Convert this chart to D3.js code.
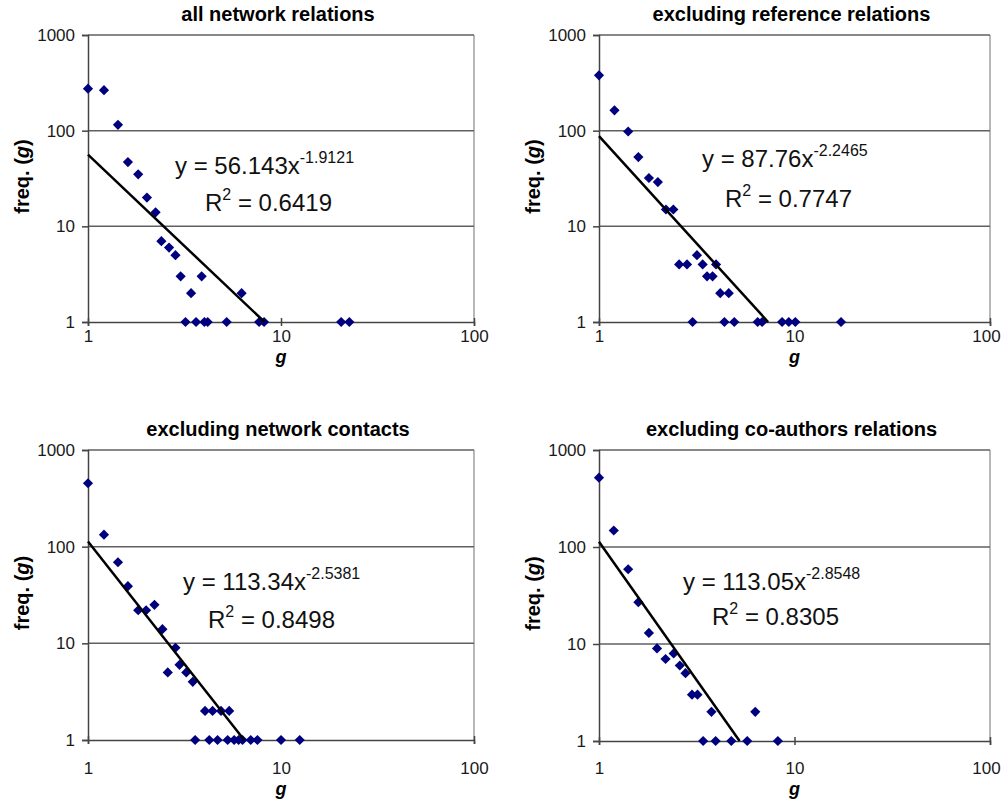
<!DOCTYPE html>
<html>
<head>
<meta charset="utf-8">
<script src="https://cdn.jsdelivr.net/npm/d3@7"></script>
<style>
  body { margin: 0; background: #fff; }
  svg { font-family: "Liberation Sans", Arial, sans-serif; }
</style>
</head>
<body>
<svg id="chart"></svg>
<script>
// data
const titles = ['all network relations', 'excluding reference relations',
                'excluding network contacts', 'excluding co-authors relations'];

const gAll = [1, 1.21, 1.43, 1.61, 1.82, 2.02, 2.24, 2.40, 2.63, 2.84, 3.02, 3.88, 3.42, 6.25,
              3.20, 3.63, 4.01, 4.17, 5.23, 7.70, 8.17, 20.5, 22.6];
const fAll = [275, 265, 115, 47, 35, 20, 14, 7, 6, 5, 3, 3, 2, 2,
              1, 1, 1, 1, 1, 1, 1, 1, 1];

const gRef = [1, 1.2, 1.41, 1.59, 1.80, 2.0, 2.20, 2.40, 2.57, 2.82, 3.17, 3.39, 3.57, 3.81, 3.97, 4.17, 4.61,
              3.01, 4.38, 4.92, 6.48, 6.83, 8.64, 9.35, 10.1, 17.3];
const fRef = [379, 163, 98, 53, 32, 29, 15, 15, 4, 4, 5, 4, 3, 3, 4, 2, 2,
              1, 1, 1, 1, 1, 1, 1, 1, 1];

const gNet = [1, 1.21, 1.43, 1.61, 1.82, 2.0, 2.21, 2.43, 2.59, 2.84, 2.98, 3.23, 3.49,
              4.04, 4.42, 4.89, 5.39,
              3.59, 4.25, 4.69, 5.29, 5.72, 6.03, 6.32, 6.97, 7.55, 10.0, 12.5];
const fNet = [453, 133, 69, 39, 22, 22, 25, 14, 5, 9, 6, 5, 4,
              2, 2, 2, 2,
              1, 1, 1, 1, 1, 1, 1, 1, 1, 1, 1];

const gCo = [1, 1.19, 1.41, 1.59, 1.80, 1.98, 2.19, 2.41, 2.59, 2.77, 2.99, 3.19, 3.76, 6.30,
             3.41, 3.95, 4.75, 5.73, 8.22];
const fCo = [519, 148, 59, 27, 13, 9, 7, 8, 6, 5, 3, 3, 2, 2,
             1, 1, 1, 1, 1];

// power trendlines y = a * x^b
const coefA = ['56.143', '87.76', '113.34', '113.05'];
const coefB = ['-1.9121', '-2.2465', '-2.5381', '-2.8548'];
const rSq = ['0.6419', '0.7747', '0.8498', '0.8305'];

const yTicks = [1, 10, 100, 1000];
const xTicks = [1, 10, 100];

const series = [[gAll, fAll], [gRef, fRef], [gNet, fNet], [gCo, fCo]];

// panel boxes + equation placement
const panels = [
  {left: 88,  right: 474, top: 35,  bottom: 322, eqX: 175, r2X: 205, eqY: 139, r2Y: 176, xl: 342, gl: 363, yl: 22},
  {left: 599, right: 990, top: 35,  bottom: 322, eqX: 702, r2X: 725, eqY: 132, r2Y: 172, xl: 342, gl: 363, yl: 533},
  {left: 88,  right: 474, top: 450, bottom: 740, eqX: 183, r2X: 208, eqY: 140, r2Y: 178, xl: 774, gl: 795, yl: 22},
  {left: 599, right: 990, top: 450, bottom: 741, eqX: 683, r2X: 712, eqY: 140, r2Y: 175, xl: 774, gl: 795, yl: 533}
];

const svg = d3.select('#chart')
  .attr('width', 1006)
  .attr('height', 799);

panels.forEach((p, i) => {
  const x = d3.scaleLog().domain([1, 100]).range([p.left, p.right]);
  const y = d3.scaleLog().domain([1, 1000]).range([p.bottom, p.top]);
  const g = svg.append('g');

  // right border
  g.append('line')
    .attr('x1', p.right).attr('x2', p.right)
    .attr('y1', p.top).attr('y2', p.bottom)
    .attr('stroke', '#a0a0a0').attr('stroke-width', 1.5);

  // horizontal gridlines
  g.selectAll('.grid')
    .data(yTicks.slice(1))
    .join('line')
    .attr('x1', p.left).attr('x2', p.right)
    .attr('y1', d => y(d)).attr('y2', d => y(d))
    .attr('stroke', '#606060').attr('stroke-width', 1.5);

  // axes
  const ya = g.append('g')
    .attr('transform', `translate(${p.left},0)`)
    .call(d3.axisLeft(y).tickValues(yTicks).tickFormat(d3.format('d')).tickSize(6).tickPadding(7));
  const xa = g.append('g')
    .attr('transform', `translate(0,${p.bottom})`)
    .call(d3.axisBottom(x).tickValues(xTicks).tickFormat(d3.format('d')).tickSize(4).tickPadding(0));
  [ya, xa].forEach(a => {
    a.select('.domain').attr('stroke', '#444').attr('stroke-width', 1.5);
    a.selectAll('.tick line').attr('stroke', '#444').attr('stroke-width', 1.5);
    a.selectAll('text').attr('font-size', 17).attr('fill', '#1a1a1a')
      .attr('font-family', '"Liberation Sans", Arial, sans-serif');
  });
  xa.selectAll('.tick line').attr('y1', -4);
  xa.selectAll('text').attr('dy', null).attr('y', p.xl - p.bottom);
  // keep the last label inside the page on the right-hand panels
  if (p.right > 980) xa.selectAll('text').filter(d => d === 100).attr('x', -4);

  // title
  svg.append('text')
    .attr('x', (p.left + p.right) / 2 - 3)
    .attr('y', p.top - 14)
    .attr('text-anchor', 'middle')
    .attr('font-size', 20).attr('font-weight', 'bold')
    .text(titles[i]);

  // axis labels
  svg.append('text')
    .attr('x', (p.left + p.right) / 2)
    .attr('y', p.gl)
    .attr('text-anchor', 'middle')
    .attr('font-size', 18).attr('font-weight', 'bold').attr('font-style', 'italic')
    .text('g');
  const yl = svg.append('text')
    .attr('transform', `translate(${p.yl + 7},${(p.top + p.bottom) / 2 - 2}) rotate(-90)`)
    .attr('text-anchor', 'middle')
    .attr('font-size', 20).attr('font-weight', 'bold');
  yl.append('tspan').text('freq. (');
  yl.append('tspan').attr('font-style', 'italic').text('g');
  yl.append('tspan').text(')');

  // points
  const [gs, fs] = series[i];
  g.selectAll('.pt')
    .data(gs.map((v, k) => [v, fs[k]]))
    .join('path')
    .attr('d', d3.symbol(d3.symbolSquare, 52))
    .attr('transform', d => `translate(${x(d[0])},${y(d[1])}) rotate(45)`)
    .attr('fill', '#00007f');

  // trendline, clipped at y = 1
  const a = +coefA[i], b = +coefB[i];
  const xEnd = Math.pow(1 / a, 1 / b);
  g.append('path')
    .datum([[1, a], [xEnd, 1]])
    .attr('d', d3.line().x(d => x(d[0])).y(d => y(d[1])))
    .attr('fill', 'none').attr('stroke', '#000').attr('stroke-width', 2.5);

  // equation + R²
  const eq = svg.append('text')
    .attr('x', p.eqX).attr('y', p.top + p.eqY)
    .attr('font-size', 24).attr('fill', '#111');
  eq.append('tspan').text(`y = ${coefA[i]}x`);
  eq.append('tspan').attr('dy', -11).attr('font-size', 16).text(coefB[i]);
  const r2 = svg.append('text')
    .attr('x', p.r2X).attr('y', p.top + p.r2Y)
    .attr('font-size', 24).attr('fill', '#111');
  r2.append('tspan').text('R');
  r2.append('tspan').attr('dy', -11).attr('font-size', 16).text('2');
  r2.append('tspan').attr('dy', 11).text(` = ${rSq[i]}`);
});
</script>
</body>
</html>
